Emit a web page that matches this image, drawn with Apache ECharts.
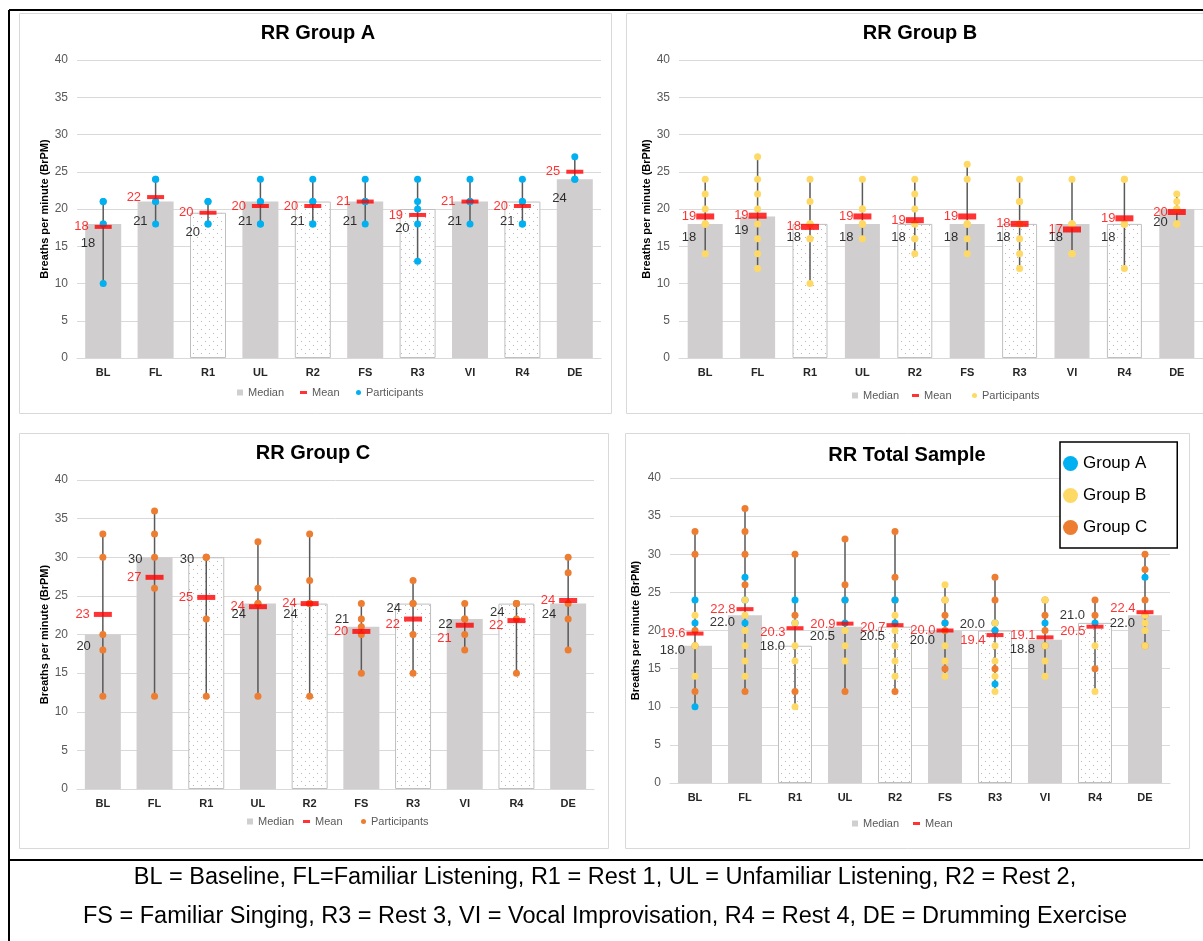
<!DOCTYPE html>
<html>
<head>
<meta charset="utf-8">
<title>RR by phase</title>
<script src="https://cdn.jsdelivr.net/npm/echarts@6/dist/echarts.min.js"></script>
<style>
  html, body { margin: 0; padding: 0; background: #fff; }
  #c { width: 1203px; height: 941px; }
</style>
</head>
<body>
<div id="c"></div>
<script>
// Session phases (x axis)
const categories = ['BL', 'FL', 'R1', 'UL', 'R2', 'FS', 'R3', 'VI', 'R4', 'DE'];
// Rest phases are drawn with a dotted fill
const restPhases = ['R1', 'R2', 'R3', 'R4'];
// Breaths per minute axis
const yMin = 0, yMax = 40, yStep = 5;

// ---- Group A: participant RR per phase ----
const groupA = [
  [21, 21, 18, 18, 10], [24, 24, 21, 21, 18], [21, 21, 18, 18], [24, 21, 21, 18, 18], [24, 21, 21, 18, 18],
  [24, 21, 21, 21, 18], [24, 21, 20, 18, 13], [24, 21, 21, 21, 18], [24, 21, 21, 18, 18], [27, 24, 24]
];
const medianA = [18, 21, 19.5, 21, 21, 21, 20, 21, 21, 24];
const meanA   = [17.6, 21.6, 19.5, 20.4, 20.4, 21.0, 19.2, 21.0, 20.4, 25.0];

// ---- Group B ----
const groupB = [
  [24, 22, 20, 18, 18, 18, 18, 14], [27, 24, 22, 20, 18, 16, 14, 12], [24, 21, 18, 18, 18, 16, 16, 10],
  [24, 20, 20, 18, 18, 18, 18, 16], [24, 22, 20, 18, 18, 16, 16, 14], [26, 24, 18, 18, 18, 18, 16, 14],
  [24, 21, 21, 18, 18, 16, 14, 12], [24, 18, 18, 18, 18, 14, 14, 14], [24, 24, 18, 18, 18, 18, 18, 12],
  [22, 21, 20, 20, 20, 18, 18, 18]
];
const medianB = [18, 19, 18, 18, 18, 18, 18, 18, 18, 20];
const meanB   = [19.0, 19.1, 17.6, 19.0, 18.5, 19.0, 18.0, 17.25, 18.75, 19.6];

// ---- Group C ----
const groupC = [
  [33, 30, 20, 18, 12], [36, 33, 30, 26, 12], [30, 30, 30, 22, 12], [32, 26, 24, 24, 12], [33, 27, 24, 24, 12],
  [24, 22, 21, 20, 15], [27, 24, 24, 20, 15], [24, 22, 22, 20, 18], [24, 24, 24, 22, 15], [30, 28, 24, 22, 18]
];
const medianC = [20, 30, 30, 24, 24, 21, 24, 22, 24, 24];
const meanC   = [22.6, 27.4, 24.8, 23.6, 24.0, 20.4, 22.0, 21.2, 21.8, 24.4];

// ---- Total sample ----
const totalA = [[24, 21, 10], [27, 24, 21], [24, 21], [24, 21], [24, 21], [21], [21, 20, 13], [21], [21], [27]];
const totalB = [
  [22, 18, 14], [24, 22, 20, 18, 16, 14], [21, 18, 16, 10], [20, 18, 16], [22, 20, 18, 16, 14],
  [26, 24, 18, 16, 14], [21, 18, 16, 14, 12], [24, 18, 16, 14], [18, 12], [22, 21, 20, 18]
];
const totalC = [
  [33, 30, 20, 18, 12], [36, 33, 30, 26, 12], [30, 22, 12], [32, 26, 24, 12], [33, 27, 24, 12],
  [24, 22, 21, 20, 15], [27, 24, 20, 15], [24, 22, 20, 18], [24, 22, 15], [30, 28, 24, 22, 18]
];
const medianTotal = [18.0, 22.0, 18.0, 20.5, 20.5, 20.0, 20.0, 18.8, 21.0, 22.0];
const meanTotal   = [19.6, 22.8, 20.3, 20.9, 20.7, 20.0, 19.4, 19.1, 20.5, 22.4];

const footerLines = [
  'BL = Baseline, FL=Familiar Listening, R1 = Rest 1, UL = Unfamiliar Listening, R2 = Rest 2,',
  'FS = Familiar Singing, R3 = Rest 3, VI = Vocal Improvisation, R4 = Rest 4, DE = Drumming Exercise'
];

// ---------------------------------------------------------------
const FONT = '"Liberation Sans", Arial, Helvetica, sans-serif';
const COLOR_A = '#00b0f0', COLOR_B = '#ffd966', COLOR_C = '#ed7d31';
const zeros = categories.map(() => 0);

// dotted white fill for rest-phase bars
const dotCanvas = document.createElement('canvas');
dotCanvas.width = 8; dotCanvas.height = 8;
const dctx = dotCanvas.getContext('2d');
dctx.fillStyle = '#ffffff'; dctx.fillRect(0, 0, 8, 8);
dctx.fillStyle = '#b8b8b8';
dctx.fillRect(1, 1, 1, 1); dctx.fillRect(5, 5, 1, 1);
const dotted = { image: dotCanvas, repeat: 'repeat' };

const panels = [
  {
    title: 'RR Group A', titleX: 318, titleY: 33, box: [19, 13, 592, 400],
    grid: { left: 77, top: 60, width: 524, height: 298 }, barWidth: 36, nameGap: 26,
    groups: [{ name: 'Participants A', color: COLOR_A, values: groupA }],
    median: medianA, mean: meanA, digits: 0,
    dash: [17, 4], meanDist: 6, meanDy: zeros,
    medRight: 8, medDy: [19.5, 19.5, 19.5, 19.5, 19.5, 19.5, 19.5, 19.5, 19.5, 19.5],
    legend: { y: 394, median: 237, mean: 300, part: 356, partName: 'Participants A' }
  },
  {
    title: 'RR Group B', titleX: 920, titleY: 33, box: [626, 13, 590, 400],
    grid: { left: 679, top: 60, width: 524, height: 298 }, barWidth: 35, nameGap: 26,
    groups: [{ name: 'Participants B', color: COLOR_B, values: groupB }],
    median: medianB, mean: meanB, digits: 0,
    dash: [18, 6], meanDist: 0, meanDy: zeros,
    medRight: 9, medDy: [13.5, 13.5, 13.5, 13.5, 13.5, 13.5, 13.5, 13.5, 13.5, 13.5],
    legend: { y: 397, median: 852, mean: 912, part: 972, partName: 'Participants B' }
  },
  {
    title: 'RR Group C', titleX: 313, titleY: 453, box: [19, 433, 589, 415],
    grid: { left: 77, top: 480, width: 517, height: 309 }, barWidth: 36, nameGap: 26,
    groups: [{ name: 'Participants C', color: COLOR_C, values: groupC }],
    median: medianC, mean: meanC, digits: 0,
    dash: [18, 5], meanDist: 4, meanDy: [0, 0, 0, 0, 0, 0, 5, 13, 5, 0],
    medRight: 12, medDy: [11.5, 2, 2.5, 11, 11, -7, 5, 5, 9, 11],
    legend: { y: 823, median: 247, mean: 303, part: 361, partName: 'Participants C' }
  },
  {
    title: 'RR Total Sample', titleX: 907, titleY: 455, box: [625, 433, 564, 415],
    grid: { left: 670, top: 478, width: 500, height: 305 }, barWidth: 34, nameGap: 29,
    groups: [
      { name: 'Group C', color: COLOR_C, values: totalC },
      { name: 'Group A', color: COLOR_A, values: totalA },
      { name: 'Group B', color: COLOR_B, values: totalB }
    ],
    median: medianTotal, mean: meanTotal, digits: 1,
    dash: [17, 4], meanDist: 1, meanDy: [0, 0, 4, 1, 2, 0, 5, -2, 5, -4],
    medRight: 10, medDy: [5, 7, 1, 10, 10, 10, -6.5, 9.5, -7, 8],
    legend: { y: 825, median: 852, mean: 913, part: null }
  }
];

const fmt = (v, digits) => digits ? v.toFixed(digits) : String(Math.round(v));

const grids = [], xAxes = [], yAxes = [], series = [], legends = [], graphics = [];

// outer frame
graphics.push(
  { type: 'line', shape: { x1: 9, y1: 10, x2: 1203, y2: 10 }, style: { stroke: '#000', lineWidth: 2 } },
  { type: 'line', shape: { x1: 9, y1: 10, x2: 9, y2: 941 }, style: { stroke: '#000', lineWidth: 2 } },
  { type: 'line', shape: { x1: 9, y1: 860, x2: 1203, y2: 860 }, style: { stroke: '#000', lineWidth: 2 } }
);
footerLines.forEach((t, i) => graphics.push({
  type: 'text', x: 605, y: 878 + i * 39,
  style: { text: t, fill: '#000', font: '23.5px ' + FONT, textAlign: 'center', textVerticalAlign: 'middle', align: 'center', verticalAlign: 'middle' }
}));

const legendBase = {
  padding: 0, selectedMode: false, itemGap: 0,
  textStyle: { fontSize: 11, color: '#595959', fontFamily: FONT }
};

panels.forEach((p, idx) => {
  graphics.push({
    type: 'rect', z: -10,
    shape: { x: p.box[0] + 0.5, y: p.box[1] + 0.5, width: p.box[2], height: p.box[3] },
    style: { fill: '#fff', stroke: '#d9d9d9', lineWidth: 1 }
  });
  graphics.push({
    type: 'text', x: p.titleX, y: p.titleY,
    style: { text: p.title, fill: '#000', font: 'bold 20px ' + FONT, textAlign: 'center', textVerticalAlign: 'middle', align: 'center', verticalAlign: 'middle' }
  });

  grids.push(p.grid);
  xAxes.push({
    type: 'category', gridIndex: idx, data: categories,
    axisTick: { show: false },
    axisLine: { lineStyle: { color: '#d9d9d9', width: 1 } },
    axisLabel: { fontSize: 11, fontWeight: 'bold', color: '#262626', margin: 9, fontFamily: FONT }
  });
  yAxes.push({
    type: 'value', gridIndex: idx, min: yMin, max: yMax, interval: yStep,
    name: 'Breaths per minute (BrPM)', nameLocation: 'middle', nameGap: p.nameGap,
    nameTextStyle: { fontSize: 11, fontWeight: 'bold', color: '#000', fontFamily: FONT },
    axisLine: { show: false }, axisTick: { show: false },
    axisLabel: { fontSize: 12, color: '#595959', margin: 9, fontFamily: FONT },
    splitLine: { lineStyle: { color: '#d9d9d9', width: 1 } }
  });

  // median bars
  series.push({
    type: 'bar', name: 'Median', xAxisIndex: idx, yAxisIndex: idx, barWidth: p.barWidth, z: 2, silent: true,
    itemStyle: { color: '#d0cece' },
    data: p.median.map((v, i) => restPhases.includes(categories[i])
      ? { value: v, itemStyle: { color: dotted, borderColor: '#bfbfbf', borderWidth: 1 } }
      : v)
  });

  // min-max range of participants
  const allVals = categories.map((c, i) => p.groups.flatMap(g => g.values[i]));
  series.push({
    type: 'custom', name: 'range', xAxisIndex: idx, yAxisIndex: idx, z: 3, silent: true,
    encode: { x: 0, y: [1, 2] },
    data: allVals.map((vals, i) => [i, Math.min(...vals), Math.max(...vals)]),
    renderItem: (params, api) => {
      const a = api.coord([api.value(0), api.value(1)]);
      const b = api.coord([api.value(0), api.value(2)]);
      return { type: 'line', shape: { x1: a[0], y1: a[1], x2: b[0], y2: b[1] }, style: { stroke: '#595959', lineWidth: 1.5 } };
    }
  });

  // participants
  p.groups.forEach(g => series.push({
    type: 'scatter', name: g.name, xAxisIndex: idx, yAxisIndex: idx, z: 4, silent: true,
    symbolSize: 7, itemStyle: { color: g.color, opacity: 1 },
    data: g.values.flatMap((vals, i) => vals.map(v => [i, v]))
  }));

  // mean markers
  series.push({
    type: 'scatter', name: 'Mean', xAxisIndex: idx, yAxisIndex: idx, z: 5, silent: true,
    symbol: 'rect', symbolSize: p.dash, itemStyle: { color: '#ff0000' },
    data: p.mean.map((v, i) => ({ value: [i, v], label: { offset: [0, p.meanDy[i]] } })),
    label: {
      show: true, position: 'left', distance: p.meanDist, color: '#ff0000', fontSize: 13, fontFamily: FONT,
      formatter: d => fmt(d.value[1], p.digits)
    }
  });

  // median value labels
  series.push({
    type: 'scatter', name: 'medianLabel', xAxisIndex: idx, yAxisIndex: idx, z: 6, silent: true,
    symbolSize: 0, itemStyle: { color: 'rgba(0,0,0,0)' },
    data: p.median.map((v, i) => ({ value: [i, v], label: { offset: [0, p.medDy[i]] } })),
    label: {
      show: true, position: 'left', distance: p.medRight, color: '#000', fontSize: 13, fontFamily: FONT,
      formatter: d => fmt(d.value[1], p.digits)
    }
  });

  // legend entries
  const L = p.legend;
  legends.push(Object.assign({}, legendBase, {
    data: ['Median'], left: L.median, top: L.y - 7, icon: 'rect', itemWidth: 6, itemHeight: 6
  }));
  legends.push(Object.assign({}, legendBase, {
    data: ['Mean'], left: L.mean, top: L.y - 7, icon: 'rect', itemWidth: 7, itemHeight: 3
  }));
  if (L.part != null) {
    legends.push(Object.assign({}, legendBase, {
      data: [L.partName], left: L.part, top: L.y - 7, icon: 'circle', itemWidth: 5, itemHeight: 5,
      formatter: () => 'Participants'
    }));
  }
});

// group key in the total sample panel
legends.push({
  data: ['Group A', 'Group B', 'Group C'], orient: 'vertical', left: 1060, top: 442,
  icon: 'circle', itemWidth: 15, itemHeight: 15, itemGap: 15, selectedMode: false,
  backgroundColor: '#fff', borderColor: '#000', borderWidth: 1.5, borderRadius: 0,
  padding: [13, 30, 12, 3], z: 10,
  textStyle: { fontSize: 17, color: '#000', fontFamily: FONT }
});

const chart = echarts.init(document.getElementById('c'), null, { renderer: 'canvas' });
chart.setOption({
  animation: false,
  textStyle: { fontFamily: FONT },
  grid: grids, xAxis: xAxes, yAxis: yAxes,
  legend: legends, series: series, graphic: graphics
});
</script>
</body>
</html>
